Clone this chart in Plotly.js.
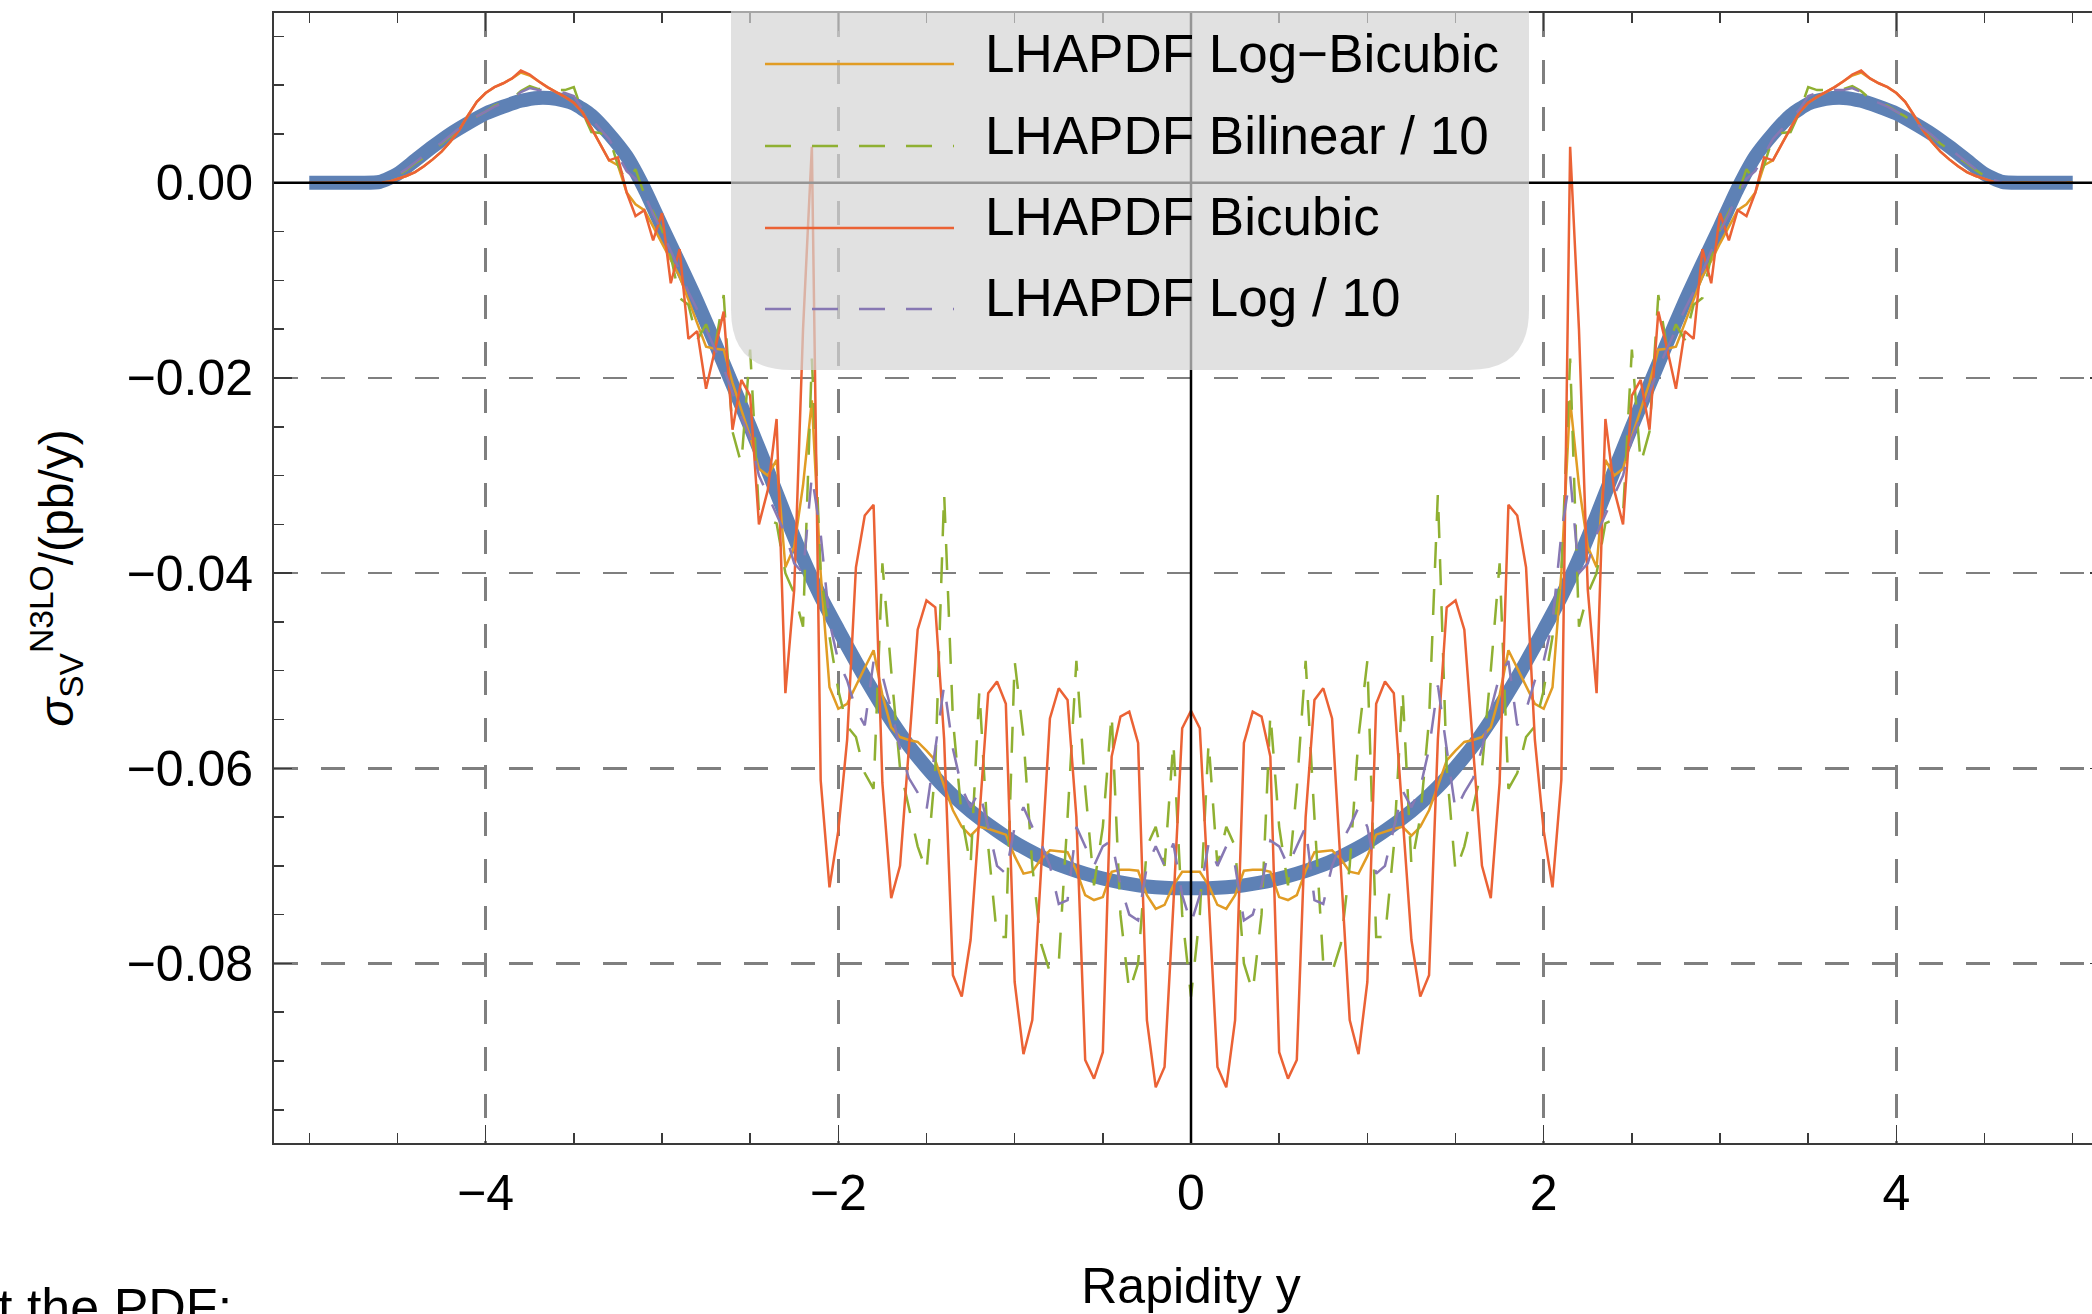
<!DOCTYPE html>
<html><head><meta charset="utf-8">
<script src="https://cdn.plot.ly/plotly-3.0.1.min.js"></script>
<style>html,body{margin:0;padding:0;overflow:hidden;background:#fff;width:2092px;height:1314px}#chart{width:2118px;height:1314px}</style>
</head><body><div id="chart"></div><script>
// ---------- data ----------
const rapidityFine = [
-5,-4.95,-4.9,-4.85,-4.8,-4.75,-4.7,-4.65,-4.6,-4.55,
-4.5,-4.45,-4.4,-4.35,-4.3,-4.25,-4.2,-4.15,-4.1,-4.05,
-4,-3.95,-3.9,-3.85,-3.8,-3.75,-3.7,-3.65,-3.6,-3.55,
-3.5,-3.45,-3.4,-3.35,-3.3,-3.25,-3.2,-3.15,-3.1,-3.05,
-3,-2.95,-2.9,-2.85,-2.8,-2.75,-2.7,-2.65,-2.6,-2.55,
-2.5,-2.45,-2.4,-2.35,-2.3,-2.25,-2.2,-2.15,-2.1,-2.05,
-2,-1.95,-1.9,-1.85,-1.8,-1.75,-1.7,-1.65,-1.6,-1.55,
-1.5,-1.45,-1.4,-1.35,-1.3,-1.25,-1.2,-1.15,-1.1,-1.05,
-1,-0.95,-0.9,-0.85,-0.8,-0.75,-0.7,-0.65,-0.6,-0.55,
-0.5,-0.45,-0.4,-0.35,-0.3,-0.25,-0.2,-0.15,-0.1,-0.05,
0,
0.05,0.1,0.15,0.2,0.25,0.3,0.35,0.4,0.45,0.5,
0.55,0.6,0.65,0.7,0.75,0.8,0.85,0.9,0.95,1,
1.05,1.1,1.15,1.2,1.25,1.3,1.35,1.4,1.45,1.5,
1.55,1.6,1.65,1.7,1.75,1.8,1.85,1.9,1.95,2,
2.05,2.1,2.15,2.2,2.25,2.3,2.35,2.4,2.45,2.5,
2.55,2.6,2.65,2.7,2.75,2.8,2.85,2.9,2.95,3,
3.05,3.1,3.15,3.2,3.25,3.3,3.35,3.4,3.45,3.5,
3.55,3.6,3.65,3.7,3.75,3.8,3.85,3.9,3.95,4,
4.05,4.1,4.15,4.2,4.25,4.3,4.35,4.4,4.45,4.5,
4.55,4.6,4.65,4.7,4.75,4.8,4.85,4.9,4.95,5];

const rapidityCoarse = [
-5,-4.9,-4.8,-4.7,-4.6,-4.5,-4.4,-4.3,-4.2,-4.1,
-4,-3.9,-3.8,-3.7,-3.6,-3.5,-3.4,-3.3,-3.2,-3.1,
-3,-2.9,-2.8,-2.7,-2.6,-2.5,-2.4,-2.3,-2.2,-2.1,
-2,-1.9,-1.8,-1.7,-1.6,-1.5,-1.4,-1.3,-1.2,-1.1,
-1,-0.9,-0.8,-0.7,-0.6,-0.5,-0.4,-0.3,-0.2,-0.1,
0,
0.1,0.2,0.3,0.4,0.5,0.6,0.7,0.8,0.9,1,
1.1,1.2,1.3,1.4,1.5,1.6,1.7,1.8,1.9,2,
2.1,2.2,2.3,2.4,2.5,2.6,2.7,2.8,2.9,3,
3.1,3.2,3.3,3.4,3.5,3.6,3.7,3.8,3.9,4,
4.1,4.2,4.3,4.4,4.5,4.6,4.7,4.8,4.9,5];

// exact result (thick blue curve)
const exactSigma = [
0,0,0,0,0.0001,0.0009,0.0023,0.0037,0.0050,0.0061,
0.0071,0.0078,0.0084,0.0087,0.0086,0.0081,0.0069,0.0050,0.0027,-0.0006,
-0.0045,-0.0083,-0.0122,-0.0164,-0.0207,-0.0250,-0.0295,-0.0341,-0.0385,-0.0424,
-0.0458,-0.0491,-0.0522,-0.0551,-0.0577,-0.0599,-0.0619,-0.0636,-0.0651,-0.0664,
-0.0676,-0.0686,-0.0695,-0.0702,-0.0708,-0.0713,-0.0717,-0.0720,-0.0722,-0.0723,
-0.0723,
-0.0723,-0.0722,-0.0720,-0.0717,-0.0713,-0.0708,-0.0702,-0.0695,-0.0686,-0.0676,
-0.0664,-0.0651,-0.0636,-0.0619,-0.0599,-0.0577,-0.0551,-0.0522,-0.0491,-0.0458,
-0.0424,-0.0385,-0.0341,-0.0295,-0.0250,-0.0207,-0.0164,-0.0122,-0.0083,-0.0045,
-0.0006,0.0027,0.0050,0.0069,0.0081,0.0086,0.0087,0.0084,0.0078,0.0071,
0.0061,0.0050,0.0037,0.0023,0.0009,0.0001,0,0,0,0];

const logBicubic = [
0,0,0,0,0,0,0,0,0,0.0001,0.0004,0.0007,0.0011,0.0017,0.0024,0.0032,0.0042,0.0054,0.0069,0.0083,
0.0092,0.0098,0.0102,0.0107,0.0113,0.0110,0.0104,0.0098,0.0093,0.0088,
0.0082,0.0072,0.0056,0.0040,0.0023,0.0018,-0.0010,-0.0022,-0.0028,-0.0045,
-0.0062,-0.0080,-0.0096,-0.0120,-0.0145,-0.0168,-0.0170,-0.0171,-0.0205,-0.0233,
-0.0260,-0.0293,-0.0300,-0.0284,-0.0394,-0.0373,-0.0310,-0.0223,-0.0400,-0.0517,
-0.0539,-0.0534,-0.0515,-0.0497,-0.0479,-0.0525,-0.0558,-0.0568,-0.0571,-0.0573,
-0.0582,-0.0592,-0.0618,-0.0643,-0.0660,-0.0669,-0.0660,-0.0662,-0.0665,-0.0668,
-0.0690,-0.0708,-0.0706,-0.0693,-0.0684,-0.0685,-0.0686,-0.0705,-0.0730,-0.0735,
-0.0732,-0.0706,-0.0704,-0.0704,-0.0705,-0.0730,-0.0744,-0.0740,-0.0720,-0.0706,
-0.0706,
-0.0706,-0.0720,-0.0740,-0.0744,-0.0730,-0.0705,-0.0704,-0.0704,-0.0706,-0.0732,
-0.0735,-0.0730,-0.0705,-0.0686,-0.0685,-0.0684,-0.0693,-0.0706,-0.0708,-0.0690,
-0.0668,-0.0665,-0.0662,-0.0660,-0.0669,-0.0660,-0.0643,-0.0618,-0.0592,-0.0582,
-0.0573,-0.0571,-0.0568,-0.0558,-0.0525,-0.0479,-0.0497,-0.0515,-0.0534,-0.0539,
-0.0517,-0.0400,-0.0223,-0.0310,-0.0373,-0.0394,-0.0284,-0.0300,-0.0293,-0.0260,
-0.0233,-0.0205,-0.0171,-0.0170,-0.0168,-0.0145,-0.0120,-0.0096,-0.0080,-0.0062,
-0.0045,-0.0028,-0.0022,-0.0010,0.0018,0.0023,0.0040,0.0056,0.0072,0.0082,
0.0088,0.0093,0.0098,0.0104,0.0110,0.0113,0.0107,0.0102,0.0098,0.0092,
0.0083,0.0069,0.0054,0.0042,0.0032,0.0024,0.0017,0.0011,0.0007,0.0004,
0.0001,0,0,0,0,0,0,0,0,0];

const bilinearTenth = [
0,0,0,0,0,0,0,0,0,0.0003,0.0007,0.0013,0.0020,0.0026,0.0034,0.0040,0.0048,0.0055,0.0062,0.0068,
0.0073,0.0079,0.0082,0.0086,0.0094,0.0099,0.0096,0.0096,0.0095,0.0095,
0.0098,0.0072,0.0052,0.0051,0.0047,0.0018,0.0001,0.0014,-0.0012,-0.0030,
-0.0048,-0.0075,-0.0118,-0.0125,-0.0161,-0.0145,-0.0170,-0.0115,-0.0255,-0.0288,
-0.0171,-0.0339,-0.0345,-0.0349,-0.0400,-0.0421,-0.0455,-0.0180,-0.0400,-0.0465,
-0.0520,-0.0557,-0.0568,-0.0605,-0.0621,-0.0390,-0.0500,-0.0600,-0.0640,-0.0680,
-0.0706,-0.0600,-0.0318,-0.0550,-0.0650,-0.0700,-0.0520,-0.0680,-0.0773,-0.0773,
-0.0490,-0.0568,-0.0700,-0.0780,-0.0809,-0.0800,-0.0650,-0.0490,-0.0620,-0.0720,
-0.0660,-0.0544,-0.0750,-0.0829,-0.0800,-0.0680,-0.0660,-0.0700,-0.0573,-0.0750,
-0.0834,
-0.0750,-0.0573,-0.0700,-0.0660,-0.0680,-0.0800,-0.0829,-0.0750,-0.0544,-0.0660,
-0.0720,-0.0620,-0.0490,-0.0650,-0.0800,-0.0809,-0.0780,-0.0700,-0.0568,-0.0490,
-0.0773,-0.0773,-0.0680,-0.0520,-0.0700,-0.0650,-0.0550,-0.0318,-0.0600,-0.0706,
-0.0680,-0.0640,-0.0600,-0.0500,-0.0390,-0.0621,-0.0605,-0.0568,-0.0557,-0.0520,
-0.0465,-0.0400,-0.0180,-0.0455,-0.0421,-0.0400,-0.0349,-0.0345,-0.0339,-0.0171,
-0.0288,-0.0255,-0.0115,-0.0170,-0.0145,-0.0161,-0.0125,-0.0118,-0.0075,-0.0048,
-0.0030,-0.0012,0.0014,0.0001,0.0018,0.0047,0.0051,0.0052,0.0072,0.0098,
0.0095,0.0095,0.0096,0.0096,0.0099,0.0094,0.0086,0.0082,0.0079,0.0073,
0.0068,0.0062,0.0055,0.0048,0.0040,0.0034,0.0026,0.0020,0.0013,0.0007,
0.0003,0,0,0,0,0,0,0,0,0];

const bicubic = [
0,0,0,0,0,0,0,0,0,0.0001,0.0004,0.0007,0.0011,0.0017,0.0024,0.0032,0.0042,0.0054,0.0069,0.0083,
0.0092,0.0098,0.0102,0.0107,0.0115,0.0111,0.0104,0.0098,0.0093,0.0088,
0.0082,0.0072,0.0056,0.0040,0.0023,0.0026,-0.0010,-0.0034,-0.0028,-0.0059,
-0.0031,-0.0103,-0.0068,-0.0160,-0.0152,-0.0211,-0.0170,-0.0132,-0.0253,-0.0202,
-0.0218,-0.0350,-0.0315,-0.0242,-0.0523,-0.0417,-0.0150,0.0037,-0.0612,-0.0722,
-0.0664,-0.0571,-0.0394,-0.0341,-0.0330,-0.0615,-0.0733,-0.0700,-0.0580,-0.0458,
-0.0428,-0.0435,-0.0570,-0.0812,-0.0834,-0.0776,-0.0650,-0.0523,-0.0511,-0.0534,
-0.0819,-0.0893,-0.0858,-0.0700,-0.0549,-0.0518,-0.0530,-0.0650,-0.0899,-0.0918,
-0.0891,-0.0588,-0.0547,-0.0542,-0.0574,-0.0858,-0.0927,-0.0906,-0.0740,-0.0559,
-0.0541,
-0.0559,-0.0740,-0.0906,-0.0927,-0.0858,-0.0574,-0.0542,-0.0547,-0.0588,-0.0891,
-0.0918,-0.0899,-0.0650,-0.0530,-0.0518,-0.0549,-0.0700,-0.0858,-0.0893,-0.0819,
-0.0534,-0.0511,-0.0523,-0.0650,-0.0776,-0.0834,-0.0812,-0.0570,-0.0435,-0.0428,
-0.0458,-0.0580,-0.0700,-0.0733,-0.0615,-0.0330,-0.0341,-0.0394,-0.0571,-0.0664,
-0.0722,-0.0612,0.0037,-0.0150,-0.0417,-0.0523,-0.0242,-0.0315,-0.0350,-0.0218,
-0.0202,-0.0253,-0.0132,-0.0170,-0.0211,-0.0152,-0.0160,-0.0068,-0.0103,-0.0031,
-0.0059,-0.0028,-0.0034,-0.0010,0.0026,0.0023,0.0040,0.0056,0.0072,0.0082,
0.0088,0.0093,0.0098,0.0104,0.0111,0.0115,0.0107,0.0102,0.0098,0.0092,
0.0083,0.0069,0.0054,0.0042,0.0032,0.0024,0.0017,0.0011,0.0007,0.0004,
0.0001,0,0,0,0,0,0,0,0,0];

const logTenth = [
0,0,0,0,0,0,0,0,0,0.0003,0.0008,0.0014,0.0021,0.0028,0.0035,0.0041,0.0049,0.0056,0.0062,0.0068,
0.0073,0.0078,0.0082,0.0086,0.0093,0.0097,0.0095,0.0095,0.0094,0.0092,
0.0089,0.0075,0.0065,0.0055,0.0045,0.0028,0.0012,0.0004,-0.0012,-0.0032,
-0.0050,-0.0070,-0.0090,-0.0112,-0.0130,-0.0150,-0.0170,-0.0190,-0.0215,-0.0240,
-0.0262,-0.0300,-0.0320,-0.0340,-0.0360,-0.0390,-0.0400,-0.0300,-0.0360,-0.0450,
-0.0490,-0.0510,-0.0540,-0.0556,-0.0490,-0.0505,-0.0540,-0.0580,-0.0610,-0.0625,
-0.0643,-0.0580,-0.0515,-0.0580,-0.0620,-0.0640,-0.0623,-0.0660,-0.0700,-0.0708,
-0.0660,-0.0640,-0.0660,-0.0677,-0.0700,-0.0739,-0.0735,-0.0660,-0.0680,-0.0700,
-0.0680,-0.0674,-0.0720,-0.0750,-0.0756,-0.0700,-0.0680,-0.0700,-0.0677,-0.0730,
-0.0759,
-0.0730,-0.0677,-0.0700,-0.0680,-0.0700,-0.0756,-0.0750,-0.0720,-0.0674,-0.0680,
-0.0700,-0.0680,-0.0660,-0.0735,-0.0739,-0.0700,-0.0677,-0.0660,-0.0640,-0.0660,
-0.0708,-0.0700,-0.0660,-0.0623,-0.0640,-0.0620,-0.0580,-0.0515,-0.0580,-0.0643,
-0.0625,-0.0610,-0.0580,-0.0540,-0.0505,-0.0490,-0.0556,-0.0540,-0.0510,-0.0490,
-0.0450,-0.0360,-0.0300,-0.0400,-0.0390,-0.0360,-0.0340,-0.0320,-0.0300,-0.0262,
-0.0240,-0.0215,-0.0190,-0.0170,-0.0150,-0.0130,-0.0112,-0.0090,-0.0070,-0.0050,
-0.0032,-0.0012,0.0004,0.0012,0.0028,0.0045,0.0055,0.0065,0.0075,0.0089,
0.0092,0.0094,0.0095,0.0095,0.0097,0.0093,0.0086,0.0082,0.0078,0.0073,
0.0068,0.0062,0.0056,0.0049,0.0041,0.0035,0.0028,0.0021,0.0014,0.0008,
0.0003,0,0,0,0,0,0,0,0,0];

const seriesNames = ['LHAPDF Log\u2212Bicubic', 'LHAPDF Bilinear / 10', 'LHAPDF Bicubic', 'LHAPDF Log / 10'];
const xTitle = 'Rapidity y';
const yTitle = '<i>\u03c3</i><sub>SV</sub><sup>N3LO</sup>/(pb/y)';
const strayText = 't the PDF:';

// ---------- styling ----------
const C = {blue:'#5E81B5', orange:'#E19C24', green:'#8FB032', red:'#EB6235', purple:'#8778B3'};
const FONT = 'Liberation Sans, Arial, Helvetica, sans-serif';
const DASH = '26px,21px';
const W = 2118, H = 1314, L = 274, R = 10, T = 13, B = 171;
const pw = W - L - R, ph = H - T - B;
const px = X => (X - L) / pw;
const py = Y => (T + ph - Y) / ph;

const traces = [
  {x: rapidityCoarse, y: exactSigma, mode:'lines', line:{color:C.blue, width:14, shape:'spline', smoothing:0.6}, showlegend:false, hoverinfo:'skip'},
  {x: rapidityFine, y: logBicubic, name: seriesNames[0], mode:'lines', line:{color:C.orange, width:2.5}, showlegend:false},
  {x: rapidityFine, y: bilinearTenth, name: seriesNames[1], mode:'lines', line:{color:C.green, width:2.5, dash:DASH}, showlegend:false},
  {x: rapidityFine, y: bicubic, name: seriesNames[2], mode:'lines', line:{color:C.red, width:2.5}, showlegend:false},
  {x: rapidityFine, y: logTenth, name: seriesNames[3], mode:'lines', line:{color:C.purple, width:2.5, dash:DASH}, showlegend:false}
];

// legend drawn manually: rounded translucent box + samples + text
const legendColors = [C.orange, C.green, C.red, C.purple];
const legendDash = ['solid', DASH, 'solid', DASH];
const rowLineY = [64, 146, 228, 309];
const rowTextY = [53, 135, 217, 298];
const bx0 = px(731), bx1 = px(1529), byT = py(11), byB = py(370);
const rx = 60 / pw, ry = 60 / ph;
const boxPath = `M${bx0},${byT} L${bx0},${byB+ry} Q${bx0},${byB} ${bx0+rx},${byB} L${bx1-rx},${byB} Q${bx1},${byB} ${bx1},${byB+ry} L${bx1},${byT} Z`;

const shapes = [
  {type:'line', xref:'x', yref:'paper', x0:0, x1:0, y0:0, y1:1, line:{color:'#000', width:2.5}, layer:'above'},
  {type:'line', xref:'paper', yref:'y', x0:0, x1:1, y0:0, y1:0, line:{color:'#000', width:2.5}, layer:'above'},
  {type:'path', xref:'paper', yref:'paper', path: boxPath, fillcolor:'rgba(212,212,212,0.7)', line:{width:0}, layer:'above'}
];
seriesNames.forEach((n, i) => {
  shapes.push({type:'line', xref:'paper', yref:'paper', x0:px(765), x1:px(954), y0:py(rowLineY[i]), y1:py(rowLineY[i]),
    line:{color:legendColors[i], width:2.5, dash:legendDash[i]}, layer:'above'});
});
const annotations = seriesNames.map((n, i) => ({
  xref:'paper', yref:'paper', x:px(983), y:py(rowTextY[i]), xanchor:'left', yanchor:'middle',
  text:n, showarrow:false, font:{family:FONT, size:53, color:'#000'}
}));
annotations.push({xref:'paper', yref:'paper', x:px(-4), y:py(1276), xanchor:'left', yanchor:'top',
  text:strayText, showarrow:false, font:{family:FONT, size:52, color:'#000'}});

const axisCommon = {
  showline:true, linecolor:'#3a3a3a', linewidth:2, mirror:'allticks',
  ticks:'inside', tickcolor:'#3a3a3a', tickwidth:1.5, ticklen:18,
  showgrid:true, gridcolor:'#7f7f7f', gridwidth:2.5, griddash:'24px,23px',
  zeroline:false, tickfont:{family:FONT, size:50, color:'#000'}
};

const layout = {
  width:W, height:H, margin:{l:L, r:R, t:T, b:B},
  paper_bgcolor:'#fff', plot_bgcolor:'#fff', showlegend:false,
  font:{family:FONT, color:'#000'},
  xaxis: Object.assign({}, axisCommon, {
    range:[-5.2, 5.2], tick0:0, dtick:2, ticklabelstandoff:5,
    minor:{dtick:0.5, ticks:'inside', ticklen:10, tickwidth:1.5, tickcolor:'#3a3a3a', showgrid:false},
    title:{text:xTitle, font:{family:FONT, size:50, color:'#000'}, standoff:53}
  }),
  yaxis: Object.assign({}, axisCommon, {
    range:[-0.0984, 0.0174], tick0:0, dtick:0.02, tickformat:'.2f', ticklabelstandoff:9,
    minor:{dtick:0.005, ticks:'inside', ticklen:10, tickwidth:1.5, tickcolor:'#3a3a3a', showgrid:false},
    title:{text:yTitle, font:{family:FONT, size:48, color:'#000'}, standoff:38}
  }),
  shapes, annotations
};

Plotly.newPlot('chart', traces, layout, {staticPlot:true, displayModeBar:false});
</script></body></html>
